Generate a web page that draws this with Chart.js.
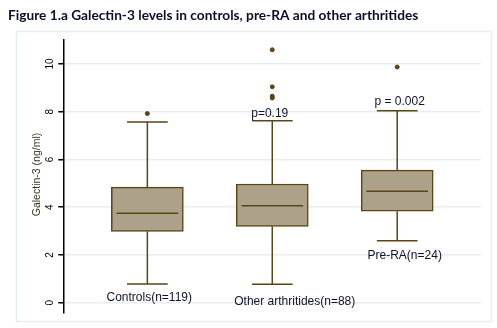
<!DOCTYPE html>
<html>
<head>
<meta charset="utf-8">
<script src="https://cdn.jsdelivr.net/npm/chart.js@4/dist/chart.umd.min.js"></script>
<style>
  html, body { margin: 0; padding: 0; background: #fff; }
  #wrap { width: 497px; height: 328px; position: relative; }
</style>
</head>
<body>
<div id="wrap"><canvas id="galectin"></canvas></div>
<script>
// groups and box plot stats
var groups = ['Controls(n=119)', 'Other arthritides(n=88)', 'Pre-RA(n=24)'];
var whiskerLow = [0.78, 0.77, 2.59];
var q1 = [2.99, 3.20, 3.83];
var median = [3.75, 4.06, 4.67];
var q3 = [4.84, 4.97, 5.55];
var whiskerHigh = [7.57, 7.62, 8.04];
var outliers = [[7.92], [10.59, 9.04, 8.65, 8.57], [9.87]];
var pValues = ['', 'p=0.19', 'p = 0.002'];
var yTicks = [0, 2, 4, 6, 8, 10];

var boxHalf = 0.247;
var capHalf = 0.163;
// where the group / p labels sit relative to each box (x offset, y value)
var groupLabelPos = [[0.015, 0.21], [0.18, 0.04], [0.06, 1.96]];
var pLabelPos = [[0, 0], [-0.02, 7.93], [0.02, 8.42]];

var lineColor = '#5a4418';
var boxColor = '#ada289';

function buildLines() {
    var pts = [];
    groups.forEach(function (g, i) {
        var x = i + 1;
        pts.push({x: x, y: q3[i]}, {x: x, y: whiskerHigh[i]}, {x: x, y: null});
        pts.push({x: x, y: q1[i]}, {x: x, y: whiskerLow[i]}, {x: x, y: null});
        pts.push({x: x - capHalf, y: whiskerHigh[i]}, {x: x + capHalf, y: whiskerHigh[i]}, {x: x, y: null});
        pts.push({x: x - capHalf, y: whiskerLow[i]}, {x: x + capHalf, y: whiskerLow[i]}, {x: x, y: null});
        pts.push({x: x - boxHalf, y: median[i]}, {x: x + boxHalf, y: median[i]}, {x: x, y: null});
    });
    return pts;
}

function buildOutliers() {
    var pts = [];
    outliers.forEach(function (list, i) {
        list.forEach(function (v) { pts.push({x: i + 1, y: v}); });
    });
    return pts;
}

var decorations = {
    id: 'decorations',
    beforeDraw: function (chart) {
        var ctx = chart.ctx;
        ctx.save();
        ctx.strokeStyle = '#e6eef0';
        ctx.lineWidth = 1.5;
        ctx.strokeRect(16.5, 31.5, 475, 290);
        ctx.restore();
    },
    afterDraw: function (chart) {
        var ctx = chart.ctx;
        var xs = chart.scales.x, ys = chart.scales.y;
        ctx.save();

        ctx.fillStyle = '#0d0d2b';
        ctx.font = 'bold 13.7px Lato, "Liberation Sans", sans-serif';
        ctx.textAlign = 'left';
        ctx.textBaseline = 'middle';
        ctx.fillText('Figure 1.a Galectin-3 levels in controls, pre-RA and other arthritides', 8, 16);

        // rotated y tick labels
        ctx.fillStyle = '#000';
        ctx.font = '10px "Liberation Sans", Arial, sans-serif';
        ctx.textAlign = 'center';
        yTicks.forEach(function (v) {
            ctx.save();
            ctx.translate(50, ys.getPixelForValue(v));
            ctx.rotate(-Math.PI / 2);
            ctx.fillText(String(v), 0, 0);
            ctx.restore();
        });

        ctx.save();
        ctx.fillStyle = '#2c3b1c';
        ctx.font = '10.5px "Liberation Sans", Arial, sans-serif';
        ctx.translate(37, (chart.chartArea.top + chart.chartArea.bottom) / 2 - 2);
        ctx.rotate(-Math.PI / 2);
        ctx.fillText('Galectin-3 (ng/ml)', 0, 0);
        ctx.restore();

        ctx.fillStyle = '#11112e';
        ctx.font = '12px "Liberation Sans", Arial, sans-serif';
        groups.forEach(function (g, i) {
            var p = groupLabelPos[i];
            ctx.fillText(g, xs.getPixelForValue(i + 1 + p[0]), ys.getPixelForValue(p[1]));
            if (pValues[i]) {
                var q = pLabelPos[i];
                ctx.fillText(pValues[i], xs.getPixelForValue(i + 1 + q[0]), ys.getPixelForValue(q[1]));
            }
        });
        ctx.restore();
    }
};

new Chart(document.getElementById('galectin'), {
    type: 'bar',
    data: {
        datasets: [{
            type: 'bar',
            data: groups.map(function (g, i) { return {x: i + 1, y: [q1[i], q3[i]]}; }),
            backgroundColor: boxColor,
            borderColor: lineColor,
            borderWidth: 1.5,
            borderSkipped: false,
            barThickness: 72,
            order: 3
        }, {
            type: 'line',
            data: buildLines(),
            borderColor: lineColor,
            borderWidth: 1.5,
            pointRadius: 0,
            spanGaps: false,
            tension: 0,
            order: 1
        }, {
            type: 'scatter',
            data: buildOutliers(),
            backgroundColor: lineColor,
            borderColor: lineColor,
            pointRadius: 2,
            order: 0
        }]
    },
    options: {
        responsive: true,
        maintainAspectRatio: false,
        animation: false,
        layout: {padding: {left: 16, right: 16, top: 40, bottom: 15}},
        plugins: {
            legend: {display: false},
            tooltip: {enabled: false},
            title: {display: false}
        },
        scales: {
            x: {
                type: 'linear',
                min: 0.566,
                max: 3.432,
                display: false
            },
            y: {
                min: -0.43,
                max: 11,
                afterBuildTicks: function (s) { s.ticks = yTicks.map(function (v) { return {value: v}; }); },
                afterFit: function (s) { s.width = 47.3; },
                ticks: {display: false},
                grid: {color: '#e8eef0', lineWidth: 1.5, tickColor: '#000', tickLength: 5, drawTicks: true},
                border: {color: '#000', width: 1.5}
            }
        }
    },
    plugins: [decorations]
});
</script>
</body>
</html>
